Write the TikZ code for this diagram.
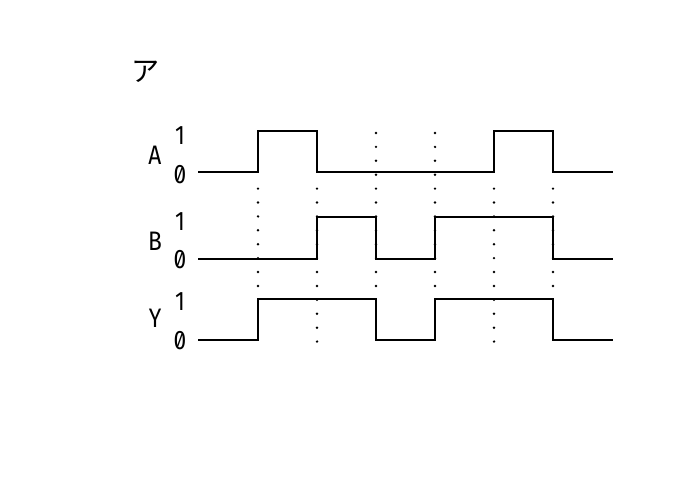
\documentclass[tikz,border=0pt]{standalone}
\usepackage{fontspec}
\setsansfont{Fira Sans}[RawFeature=+zero]
\newfontfamily\jpfont{Noto Sans CJK JP}
\usepackage{tikz}
\tikzset{
  siglabel/.style={font=\sffamily\fontsize{19}{19}\selectfont, inner sep=0pt, xscale=0.85},
  wave/.style={draw=black, line width=1.3pt, line join=miter},
  guide/.style={draw=black, line width=1.9pt, line cap=round, dash pattern=on 0pt off 9.89pt}
}

\begin{document}
\begin{tikzpicture}[x=0.025cm,y=-0.025cm]
		\useasboundingbox (0,0) rectangle (688,491);

		\node[inner sep=0pt, font=\jpfont\fontsize{20}{20}\selectfont] (kana) at (146,72) {ア};

		\begin{scope}[every node/.style={siglabel}]
		    \node (A)  at (155,155) {A};
		    \node (A1) at (180,136) {1};
		    \node (A0) at (180,175) {0};
		    \node (B)  at (155,241) {B};
		    \node (B1) at (180,222) {1};
		    \node (B0) at (180,260) {0};
		    \node (Y)  at (155,318) {Y};
		    \node (Y1) at (180,302) {1};
		    \node (Y0) at (180,341) {0};
		\end{scope}

		% dotted time marks
		\begin{scope}[every path/.style={guide}]
		    \path (258,188.6) -- (258,287);
		    \path (317,188.6) -- (317,343);
		    \path (376,133) -- (376,287);
		    \path (435,133) -- (435,287);
		    \path (494,188.6) -- (494,343);
		    \path (553,188.6) -- (553,287);
		\end{scope}

		% signals
		\begin{scope}[every path/.style={wave}]
		    \path (198,172) -| (258,131) -| (317,172) -| (494,131) -| (553,172) -- (613,172);
		    \path (198,259) -| (317,217) -| (376,259) -| (435,217) -| (553,259) -- (613,259);
		    \path (198,340) -| (258,299) -| (376,340) -| (435,299) -| (553,340) -- (613,340);
		\end{scope}
		\end{tikzpicture}
\end{document}
